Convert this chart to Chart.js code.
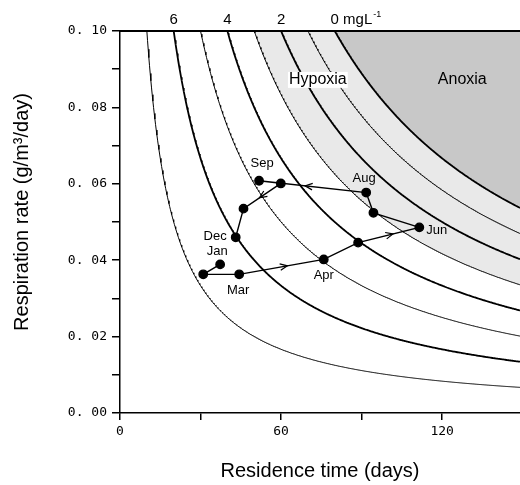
<!DOCTYPE html>
<html>
<head>
<meta charset="utf-8">
<script src="https://cdn.jsdelivr.net/npm/chart.js@4.4.0/dist/chart.umd.min.js"></script>
<style>
    html, body { margin: 0; padding: 0; background: #fff; }
</style>
</head>
<body>
<canvas id="chart" width="520" height="485"></canvas>
<script>
// Monthly respiration rate vs residence time
const months = ['Jan', 'Feb', 'Mar', 'Apr', 'May', 'Jun', 'Jul', 'Aug', 'Sep', 'Oct', 'Nov', 'Dec'];
const residenceTime = [37.3, 31.0, 44.4, 75.9, 88.7, 111.5, 94.4, 91.7, 51.8, 59.9, 46.0, 43.1];
const respirationRate = [0.0389, 0.0363, 0.0363, 0.0402, 0.0446, 0.0486, 0.0524, 0.0577, 0.0608, 0.0601, 0.0535, 0.0460];
const labelledMonths = ['Jan', 'Mar', 'Apr', 'Jun', 'Aug', 'Sep', 'Dec'];
const arrowSegments = ['Mar', 'May', 'Aug', 'Oct']; // segment starting at that month

// Dissolved oxygen isopleths: DO = saturation - rate * time
const saturationDO = 8;
const oxygenLevels = [7, 6, 5, 4, 3, 2, 1, 0];
const labelledLevels = [6, 4, 2, 0];
const hypoxiaLevel = 3;
const anoxiaLevel = 0;

// Axes
const xMax = 149;
const yMax = 0.1;
const xLabelTicks = [0, 60, 120];
const yLabelTicks = [0, 0.02, 0.04, 0.06, 0.08, 0.10];
const yTitle = 'Respiration rate (g/m³/day)';

function isopleth(level) {
    const used = saturationDO - level;
    const pts = [];
    for (let t = used / yMax; t < xMax; t += 0.25) {
        pts.push({ x: t, y: used / t });
    }
    pts.push({ x: xMax, y: used / xMax });
    return pts;
}

const datasets = [];

// shaded zones
datasets.push({
    data: isopleth(hypoxiaLevel),
    showLine: true,
    fill: 'end',
    backgroundColor: '#e9e9e9',
    borderColor: 'rgba(0,0,0,0)',
    borderWidth: 0,
    pointRadius: 0,
    order: 30
});
datasets.push({
    data: isopleth(anoxiaLevel),
    showLine: true,
    fill: 'end',
    backgroundColor: '#c8c8c8',
    borderColor: 'rgba(0,0,0,0)',
    borderWidth: 0,
    pointRadius: 0,
    order: 20
});

// isopleth lines, thick on even DO values
oxygenLevels.forEach(level => {
    datasets.push({
        data: isopleth(level),
        showLine: true,
        borderColor: '#000',
        borderWidth: level % 2 === 0 ? 1.8 : 1,
        pointRadius: 0,
        fill: false,
        order: 10
    });
});

// monthly track
datasets.push({
    data: residenceTime.map((t, i) => ({ x: t, y: respirationRate[i] })),
    showLine: true,
    borderColor: '#000',
    borderWidth: 1.4,
    pointRadius: 4.2,
    pointBackgroundColor: '#000',
    pointBorderColor: '#000',
    order: 0
});

const annotations = {
    id: 'annotations',
    afterDatasetsDraw(chart) {
        const { ctx, chartArea, scales: { x, y } } = chart;
        ctx.save();

        // top frame line
        ctx.strokeStyle = '#000';
        ctx.lineWidth = 2;
        ctx.beginPath();
        ctx.moveTo(chartArea.left, chartArea.top);
        ctx.lineTo(chartArea.right, chartArea.top);
        ctx.stroke();

        // arrows along the track
        ctx.lineWidth = 1.2;
        arrowSegments.forEach(m => {
            const i = months.indexOf(m);
            const x0 = x.getPixelForValue(residenceTime[i]);
            const y0 = y.getPixelForValue(respirationRate[i]);
            const x1 = x.getPixelForValue(residenceTime[i + 1]);
            const y1 = y.getPixelForValue(respirationRate[i + 1]);
            const tx = x0 + (x1 - x0) * 0.57;
            const ty = y0 + (y1 - y0) * 0.57;
            const a = Math.atan2(y1 - y0, x1 - x0);
            ctx.beginPath();
            ctx.moveTo(tx + 8 * Math.cos(a + Math.PI - 0.42), ty + 8 * Math.sin(a + Math.PI - 0.42));
            ctx.lineTo(tx, ty);
            ctx.lineTo(tx + 8 * Math.cos(a + Math.PI + 0.42), ty + 8 * Math.sin(a + Math.PI + 0.42));
            ctx.stroke();
        });

        // month labels
        const place = {
            Jan: [-3, -13, 'center'],
            Mar: [-1, 16, 'center'],
            Apr: [0, 16, 'center'],
            Jun: [7, 3, 'left'],
            Aug: [-2, -14, 'center'],
            Sep: [3, -17, 'center'],
            Dec: [-9, -1, 'right']
        };
        ctx.fillStyle = '#000';
        ctx.font = '13px "Liberation Sans", Arial, sans-serif';
        ctx.textBaseline = 'middle';
        labelledMonths.forEach(m => {
            const i = months.indexOf(m);
            const [dx, dy, align] = place[m];
            ctx.textAlign = align;
            ctx.fillText(m, x.getPixelForValue(residenceTime[i]) + dx, y.getPixelForValue(respirationRate[i]) + dy);
        });

        // zone labels
        ctx.font = '16px "Liberation Sans", Arial, sans-serif';
        ctx.textAlign = 'center';
        const hx = x.getPixelForValue(73.7);
        const hy = y.getPixelForValue(0.0872);
        const hw = ctx.measureText('Hypoxia').width;
        ctx.fillStyle = '#fff';
        ctx.fillRect(hx - hw / 2 - 1, hy - 8, hw + 2, 16);
        ctx.fillStyle = '#000';
        ctx.fillText('Hypoxia', hx, hy);
        ctx.fillText('Anoxia', x.getPixelForValue(127.5), hy);

        // DO labels above the frame
        ctx.font = '15px "Liberation Sans", Arial, sans-serif';
        labelledLevels.forEach(level => {
            const px = x.getPixelForValue((saturationDO - level) / yMax);
            if (level === 0) {
                ctx.textAlign = 'left';
                const w0 = ctx.measureText('0').width;
                const start = px - w0 / 2;
                ctx.fillText('0 mgL', start, 20);
                const w = ctx.measureText('0 mgL').width;
                ctx.font = '9px "Liberation Sans", Arial, sans-serif';
                ctx.fillText('-1', start + w + 1, 15);
                ctx.font = '15px "Liberation Sans", Arial, sans-serif';
            } else {
                ctx.textAlign = 'center';
                ctx.fillText(String(level), px, 20);
            }
        });

        // y axis title (sits a little above the axis centre)
        ctx.translate(22, 212);
        ctx.rotate(-Math.PI / 2);
        ctx.font = '20px "Liberation Sans", Arial, sans-serif';
        ctx.textAlign = 'center';
        ctx.fillText(yTitle, 0, 0);

        ctx.restore();
    }
};

const tickFont = { family: '"DejaVu Sans Mono", monospace', size: 13 };
const titleFont = { family: '"Liberation Sans", Arial, sans-serif', size: 20 };

new Chart(document.getElementById('chart'), {
    type: 'scatter',
    data: { datasets },
    options: {
        responsive: false,
        animation: false,
        events: [],
        layout: { autoPadding: false, padding: { top: 31, right: 0, left: 0, bottom: 0 } },
        plugins: {
            legend: { display: false },
            tooltip: { enabled: false }
        },
        scales: {
            x: {
                type: 'linear',
                min: 0,
                max: xMax,
                afterFit: scale => {
                    scale.height = 72;
                    scale.paddingLeft = 0;
                    scale.paddingRight = 0;
                },
                border: { color: '#000', width: 1.5 },
                grid: { drawOnChartArea: false, color: '#000', lineWidth: 1.5, tickLength: 7 },
                ticks: {
                    stepSize: 30,
                    includeBounds: false,
                    maxRotation: 0,
                    autoSkip: false,
                    color: '#000',
                    font: tickFont,
                    padding: 4,
                    callback: v => xLabelTicks.includes(v) ? String(v) : ''
                },
                title: {
                    display: true,
                    text: 'Residence time (days)',
                    color: '#000',
                    font: titleFont,
                    padding: { top: 0, bottom: 2 }
                }
            },
            y: {
                type: 'linear',
                min: 0,
                max: yMax,
                afterFit: scale => {
                    scale.width = 120;
                    scale.paddingTop = 0;
                    scale.paddingBottom = 0;
                },
                border: { color: '#000', width: 1.5 },
                grid: { drawOnChartArea: false, color: '#000', lineWidth: 1.5, tickLength: 8 },
                ticks: {
                    stepSize: 0.01,
                    autoSkip: false,
                    color: '#000',
                    font: tickFont,
                    padding: 5,
                    callback: v => {
                        const hit = yLabelTicks.find(t => Math.abs(t - v) < 1e-6);
                        if (hit === undefined) return '';
                        return '0. ' + String(Math.round(hit * 100)).padStart(2, '0');
                    }
                }
            }
        }
    },
    plugins: [annotations]
});
</script>
</body>
</html>
